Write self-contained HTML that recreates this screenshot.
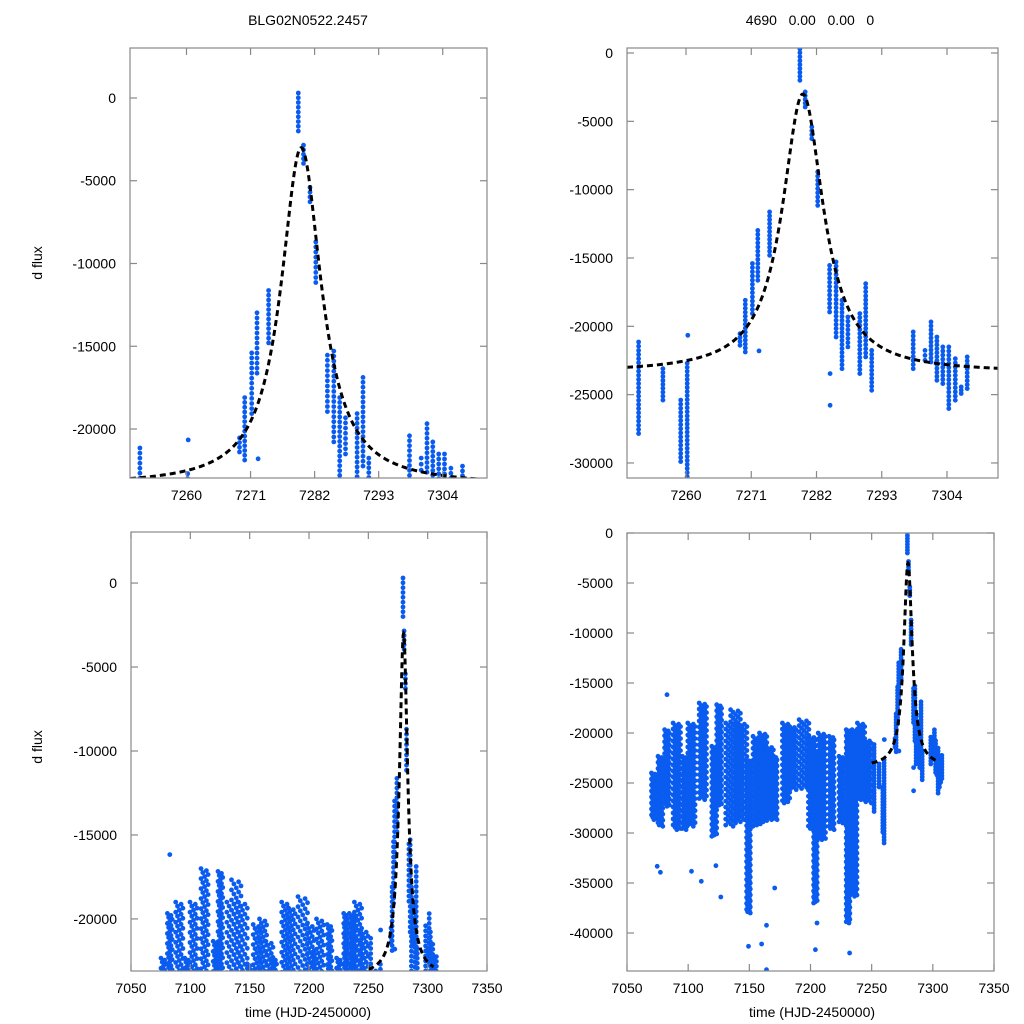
<!DOCTYPE html>
<html><head><meta charset="utf-8">
<style>
html,body{margin:0;padding:0;background:#fff;overflow:hidden;width:1024px;height:1024px;}
svg{display:block;font-family:"Liberation Sans",Arial,sans-serif;}
</style></head>
<body>
<svg id="chart" width="1024" height="1024" viewBox="0 0 1024 1024" xmlns="http://www.w3.org/2000/svg">
<rect width="1024" height="1024" fill="#fff"/>
<text x="308" y="25" font-size="14" text-anchor="middle">BLG02N0522.2457</text>
<text x="810" y="25" font-size="14" text-anchor="middle" xml:space="preserve">4690   0.00   0.00   0</text>
<text x="42" y="263" font-size="14" text-anchor="middle" transform="rotate(-90 42 263)">d flux</text>
<text x="42" y="747" font-size="14" text-anchor="middle" transform="rotate(-90 42 747)">d flux</text>
<text x="308" y="1017" font-size="14" text-anchor="middle">time (HJD-2450000)</text>
<text x="812" y="1017" font-size="14" text-anchor="middle">time (HJD-2450000)</text>
</svg>
<script>
// Observation columns: [time, flux top, flux bottom, time spread (days)]
const baselineColumns = [
 [7072,-24000,-28670,2],[7077.3,-22330,-29330,2],[7082.7,-19670,-27330,2],[7090.7,-19000,-29670,3],
 [7097.3,-22330,-29670,2],[7102.7,-19000,-29330,3],[7112,-17000,-26670,3],[7121.3,-21330,-30330,2],
 [7125.3,-17170,-27330,2],[7134.7,-19000,-29330,4],[7138.7,-17670,-29000,4],[7144,-19000,-28670,4],
 [7149.3,-22670,-38000,1.5],[7156,-20330,-29330,3],[7161.3,-20000,-29000,3],[7166.7,-21330,-28670,3],
 [7170.7,-22330,-28670,2],[7180,-19000,-27000,3],[7185.3,-19330,-25670,3],[7194.7,-18670,-25670,4],
 [7201.3,-20330,-29670,3],[7204,-22000,-37000,1.5],[7209.3,-20000,-30670,3],[7217.3,-20330,-29670,2],
 [7225.3,-22330,-29000,2],[7230.7,-19670,-39000,1.5],[7236,-19670,-36330,2],[7241.3,-19000,-26670,3],
 [7246.7,-20670,-27000,3]
];
const eventColumns = [
 [7252.2,-21150,-27850,0.2],[7256.2,-23100,-25400,0.1],[7259.2,-25400,-29900,0.1],[7260.3,-22700,-31000,0.1],
 [7269.3,-20540,-21390,0.2],[7270.2,-18100,-21880,0.2],[7271.4,-15400,-19070,0.2],[7272.3,-12980,-16630,0.2],
 [7274.3,-11630,-14800,0.2],[7279.3,300,-2000,0.1],[7280.2,-2850,-3950,0.1],[7281.3,-5410,-6270,0.1],
 [7282.3,-8700,-11150,0.1],[7284.3,-15540,-18950,0.1],[7285.4,-15290,-20780,0.1],[7286.4,-18100,-23100,0.1],
 [7287.4,-19320,-21510,0.1],[7289.4,-19070,-23460,0.1],[7290.4,-16880,-22240,0.1],[7291.4,-21760,-24680,0.1],
 [7298.4,-20410,-23100,0.1],[7300.4,-21760,-22490,0.1],[7301.4,-19680,-22610,0.1],[7302.4,-20780,-23950,0.1],
 [7303.4,-21510,-24190,0.1],[7304.4,-21510,-26020,0.1],[7305.5,-22370,-25410,0.1],[7306.5,-24430,-24920,0.1],
 [7307.5,-22240,-24560,0.1]
];
const outlierTimes = [7074.7,7077.3,7102.7,7110.7,7122.7,7126.7,7149.3,7160,7164,7164,7170.7,7204,7205.3,7232,7082.7,7260.3,7272.3,7284.3,7284.3];
const outlierFlux  = [-33330,-33930,-33830,-34830,-33270,-36400,-41330,-41100,-39230,-43670,-35500,-41670,-39000,-42000,-16170,-20660,-21800,-23460,-25780];
// model (microlensing fit) parameters
const modelT0 = [7279.7];
const modelParams = [-23400, 20400, 4.2]; // baseline, amplitude, width

const panels = [
 {id:'top-left', x0:130,x1:487,y0:48,y1:478, tmin:7250.3,tmax:7311.6, fmin:-22960,fmax:3020,
  xticks:[7260,7271,7282,7293,7304], yticks:[0,-5000,-10000,-15000,-20000], mt:[7250.3,7311.6]},
 {id:'top-right', x0:627,x1:998,y0:48,y1:478, tmin:7250.05,tmax:7312.6, fmin:-31100,fmax:366,
  xticks:[7260,7271,7282,7293,7304], yticks:[0,-5000,-10000,-15000,-20000,-25000,-30000], mt:[7250.05,7312.6]},
 {id:'bottom-left', x0:131,x1:487,y0:532,y1:971, tmin:7050,tmax:7350, fmin:-23100,fmax:3040,
  xticks:[7050,7100,7150,7200,7250,7300,7350], yticks:[0,-5000,-10000,-15000,-20000], mt:[7250,7305]},
 {id:'bottom-right', x0:627,x1:994,y0:533,y1:971, tmin:7050,tmax:7350, fmin:-43800,fmax:0,
  xticks:[7050,7100,7150,7200,7250,7300,7350], yticks:[0,-5000,-10000,-15000,-20000,-25000,-30000,-35000,-40000], mt:[7250,7305]}
];

const NS='http://www.w3.org/2000/svg';
const svg=document.getElementById('chart');
function mk(tag,attrs,parent){const e=document.createElementNS(NS,tag);for(const k in attrs)e.setAttribute(k,attrs[k]);(parent||svg).appendChild(e);return e;}
function model(t){const d=(t-modelT0[0])/modelParams[2];return modelParams[0]+modelParams[1]/(1+d*d);}

panels.forEach(p=>{
 const sx=t=>p.x0+(t-p.tmin)/(p.tmax-p.tmin)*(p.x1-p.x0);
 const sy=f=>p.y1-(f-p.fmin)/(p.fmax-p.fmin)*(p.y1-p.y0);
 const g=mk('g',{});
 
 
 const clip=mk('clipPath',{id:'clip-'+p.id},g);
 mk('rect',{x:p.x0,y:p.y0,width:p.x1-p.x0,height:p.y1-p.y0},clip);
 const pts=mk('g',{'clip-path':'url(#clip-'+p.id+')',fill:'#0a5cf0'},g);
 
 
 const draw=(cols,step,lanes)=>cols.forEach(c=>{
  const n=Math.max(2,Math.round((c[1]-c[2])/step)+1);
  for(let i=0;i<n;i++){
   const f=c[1]+(c[2]-c[1])*i/(n-1);
   const lane=((i*3)%lanes)/(lanes-1)*2-1;
   const t=c[0]+c[3]*lane;
   const dot=mk('circle',{cx:sx(t).toFixed(1),cy:sy(f).toFixed(1),r:2.4},pts);
   
   
  }
 });
 draw(baselineColumns,120,5);
 draw(eventColumns,300,3);
 outlierTimes.forEach((t,i)=>{
  const dot=mk('circle',{cx:sx(t).toFixed(1),cy:sy(outlierFlux[i]).toFixed(1),r:2.4},pts);
  
  
 });
 let d='';
 for(let k=0;k<=400;k++){const t=p.mt[0]+(p.mt[1]-p.mt[0])*k/400;d+=(k?'L':'M')+sx(t).toFixed(2)+','+sy(model(t)).toFixed(2);}
 const ml=mk('path',{d:d,fill:'none',stroke:'#000','stroke-width':3,'stroke-dasharray':'6,4','clip-path':'url(#clip-'+p.id+')'},g);
 
 
 const box=mk('rect',{x:p.x0,y:p.y0,width:p.x1-p.x0,height:p.y1-p.y0,fill:'none',stroke:'#888','stroke-width':1.2},g);
 
 
 p.xticks.forEach(t=>{
  const x=sx(t);
  mk('line',{x1:x,x2:x,y1:p.y1,y2:p.y1-7,stroke:'#888','stroke-width':1.2},g);
  mk('line',{x1:x,x2:x,y1:p.y0,y2:p.y0+7,stroke:'#888','stroke-width':1.2},g);
  const lb=mk('text',{x:x,y:p.y1+22,'font-size':14,'text-anchor':'middle'},g);
  lb.textContent=t;
  
  
 });
 p.yticks.forEach(f=>{
  const y=sy(f);
  mk('line',{x1:p.x0,x2:p.x0+7,y1:y,y2:y,stroke:'#888','stroke-width':1.2},g);
  mk('line',{x1:p.x1,x2:p.x1-7,y1:y,y2:y,stroke:'#888','stroke-width':1.2},g);
  const lb=mk('text',{x:p.x0-14,y:y+5,'font-size':14,'text-anchor':'end'},g);
  lb.textContent=f;
  
  
 });
});
</script>
</body></html>
